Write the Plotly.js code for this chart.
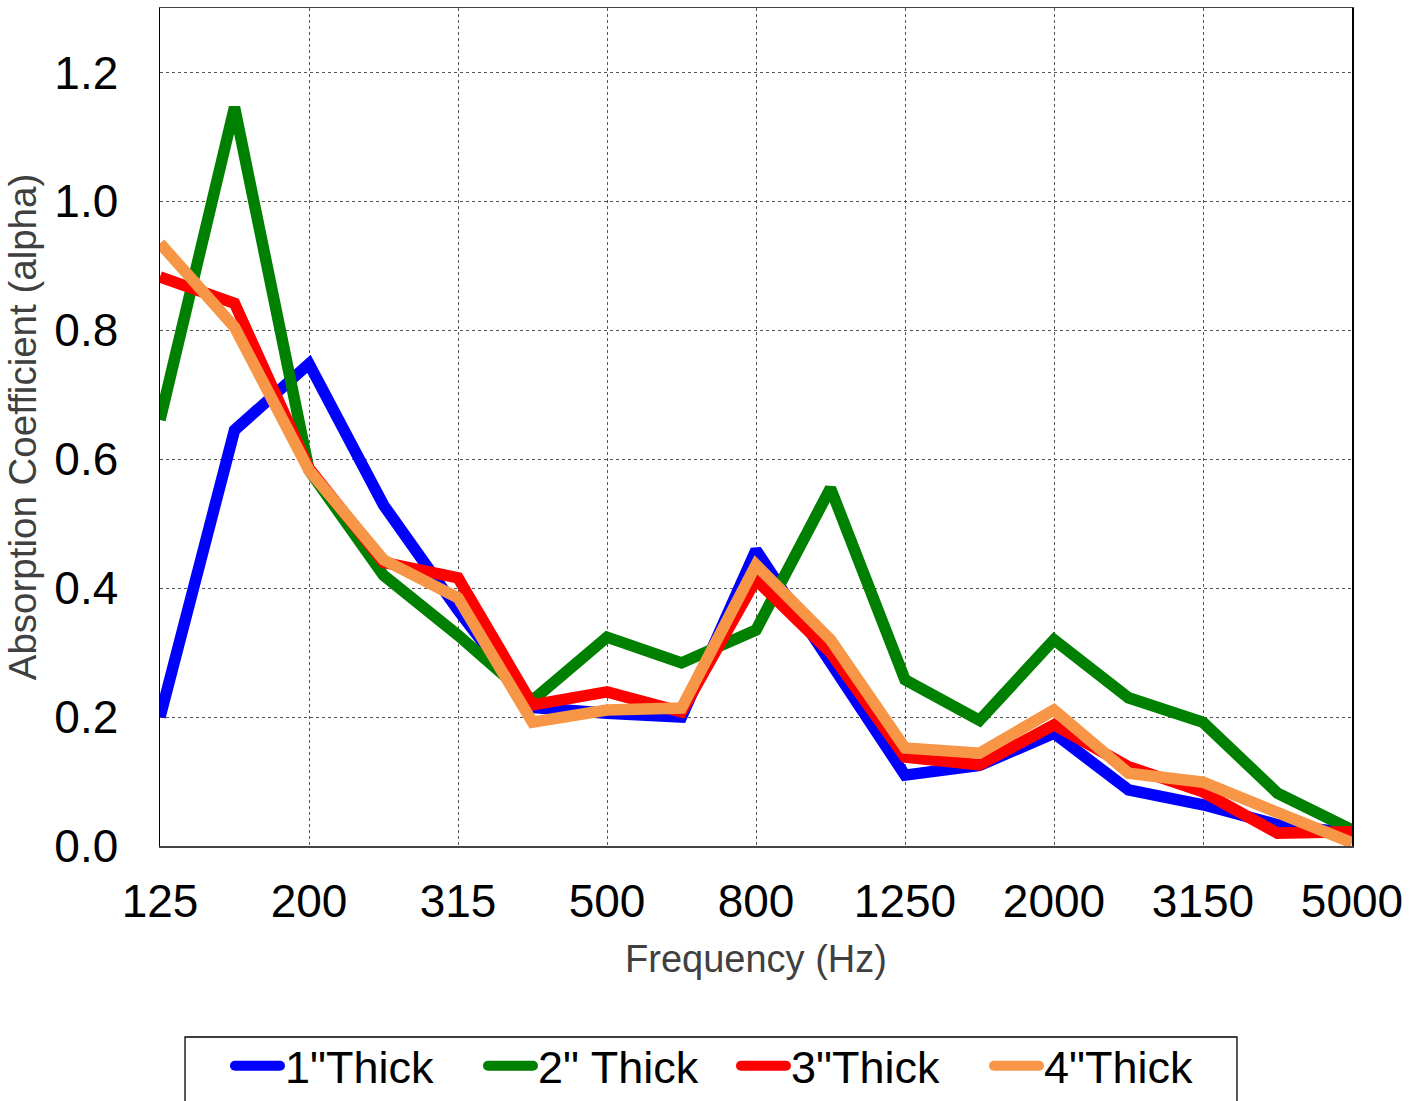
<!DOCTYPE html>
<html>
<head>
<meta charset="utf-8">
<script src="https://cdn.plot.ly/plotly-3.0.1.min.js"></script>
<style>
html,body{margin:0;padding:0;background:#fff;overflow:hidden;}
#chart{width:1422px;height:1101px;}
.legend .legendlines path{stroke-linecap:round !important;}
</style>
</head>
<body>
<div id="chart"></div>
<script>
const frequencies = ["125","160","200","250","315","400","500","630","800","1000","1250","1600","2000","2500","3150","4000","5000"];
const tickLabels = ["125","200","315","500","800","1250","2000","3150","5000"];
const thick1 = [0.20,0.645,0.748,0.529,0.366,0.215,0.206,0.200,0.459,0.285,0.110,0.125,0.175,0.087,0.064,0.033,0.020];
const thick2 = [0.661,1.146,0.583,0.420,0.327,0.226,0.324,0.284,0.335,0.555,0.258,0.195,0.320,0.230,0.192,0.082,0.025];
const thick3 = [0.883,0.842,0.586,0.440,0.416,0.219,0.239,0.208,0.413,0.300,0.138,0.126,0.188,0.123,0.084,0.020,0.022];
const thick4 = [0.935,0.805,0.583,0.444,0.385,0.192,0.211,0.214,0.436,0.320,0.152,0.144,0.211,0.113,0.099,0.051,0.005];
const seriesNames = ['1"Thick','2" Thick','3"Thick','4"Thick'];
const seriesColors = ['#0000ff','#008000','#ff0000','#f79646'];
const seriesData = [thick1, thick2, thick3, thick4];

const traces = seriesData.map((d,i)=>({
  x: frequencies, y: d, type:'scatter', mode:'lines', name: seriesNames[i],
  line:{color: seriesColors[i], width:11.5}
}));

const layout = {
  width:1422, height:1101,
  margin:{l:160, r:70, t:8, b:255},
  paper_bgcolor:'#fff', plot_bgcolor:'#fff',
  font:{family:'Liberation Sans, Arial, sans-serif', color:'#000'},
  showlegend:true,
  legend:{orientation:'h', x:0.0587, xanchor:'left', yref:'container', y:0.0645, yanchor:'top',
    borderwidth:0, bgcolor:'rgba(0,0,0,0)', font:{size:45},
    itemwidth:45, entrywidth:193, tracegroupgap:0},
  shapes:[{type:'rect', xref:'paper', yref:'paper', x0:0.021, x1:0.9035, y0:-0.2279, y1:-0.40,
    line:{color:'#000', width:1.3}, fillcolor:'rgba(0,0,0,0)', layer:'below'}],
  xaxis:{type:'category', range:[0,16], tickmode:'array', tickvals:tickLabels, ticktext:tickLabels,
    tickfont:{size:46}, ticks:'', ticklabelstandoff:14,
    showgrid:true, gridcolor:'#555', griddash:'dot', gridwidth:1,
    showline:true, linecolor:'#444', linewidth:1.5, mirror:true,
    title:{text:'Frequency (Hz)', font:{size:38, color:'#404040'}, standoff:19}},
  yaxis:{range:[0,1.3], tickmode:'array', tickvals:[0,0.2,0.4,0.6,0.8,1.0,1.2],
    ticktext:['0.0','0.2','0.4','0.6','0.8','1.0','1.2'],
    tickfont:{size:46}, ticks:'', ticklabelstandoff:31,
    showgrid:true, gridcolor:'#555', griddash:'dot', gridwidth:1, zeroline:false,
    showline:true, linecolor:'#000', linewidth:1.5, mirror:true,
    title:{text:'Absorption Coefficient (alpha)', font:{size:38.5, color:'#404040'}, standoff:6}}
};
Plotly.newPlot('chart', traces, layout, {displayModeBar:false, staticPlot:true});
</script>
</body>
</html>
